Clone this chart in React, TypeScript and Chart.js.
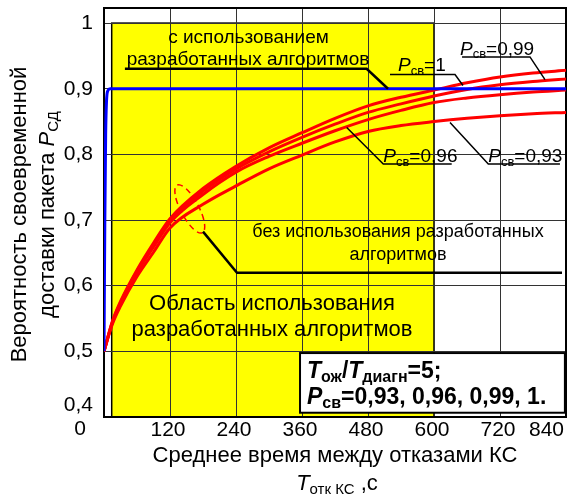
import { useEffect, useRef } from 'react';
import { Chart, registerables } from 'chart.js';
Chart.register(...registerables);

// ---- data ----
const xTicks = [0, 120, 240, 360, 480, 600, 720, 840];
const yTicks = [0.4, 0.5, 0.6, 0.7, 0.8, 0.9, 1];
const xRed = [0, 15, 30, 60, 90, 120, 180, 240, 300, 360, 420, 480, 540, 600, 660, 720, 780, 840];
const pcv1 = [0.5, 0.545, 0.576, 0.624, 0.665, 0.702, 0.748, 0.782, 0.81, 0.833, 0.855, 0.874, 0.887, 0.898, 0.909, 0.918, 0.924, 0.928];
const pcv099 = [0.5, 0.544, 0.574, 0.622, 0.662, 0.699, 0.744, 0.778, 0.804, 0.826, 0.846, 0.864, 0.877, 0.889, 0.899, 0.906, 0.911, 0.915];
const pcv096 = [0.5, 0.543, 0.572, 0.62, 0.659, 0.696, 0.739, 0.773, 0.797, 0.817, 0.836, 0.853, 0.867, 0.879, 0.886, 0.891, 0.895, 0.898];
const pcv093 = [0.5, 0.541, 0.569, 0.614, 0.651, 0.688, 0.724, 0.752, 0.778, 0.799, 0.819, 0.835, 0.844, 0.85, 0.855, 0.859, 0.862, 0.864];
const xBlue = [0, 1.5, 3, 4.5, 7, 11, 840];
const yBlue = [0.5, 0.7, 0.83, 0.88, 0.897, 0.9, 0.9];
const regionX = [14, 600];
const regionY = [0.4, 1.0];

const FONT = "'Liberation Sans', Arial, sans-serif";

type Seg = { t: string; it?: boolean; b?: boolean; sub?: boolean };

function fontOf(s: Seg, size: number) {
  const sz = s.sub ? Math.round(size * 0.68) : size;
  return `${s.it ? 'italic ' : ''}${s.b ? 'bold ' : ''}${sz}px ${FONT}`;
}

function drawRich(ctx: CanvasRenderingContext2D, segs: Seg[], x: number, y: number, size: number, align: 'left' | 'center') {
  let w = 0;
  for (const s of segs) {
    ctx.font = fontOf(s, size);
    w += ctx.measureText(s.t).width;
  }
  let cx = align === 'center' ? x - w / 2 : x;
  ctx.textAlign = 'left';
  ctx.textBaseline = 'alphabetic';
  for (const s of segs) {
    ctx.font = fontOf(s, size);
    ctx.fillText(s.t, cx, s.sub ? y + size * 0.18 : y);
    cx += ctx.measureText(s.t).width;
  }
}

const annot = {
  id: 'annot',
  beforeDraw(chart: any) {
    const { ctx, scales } = chart;
    const X = (v: number) => scales.x.getPixelForValue(v);
    const Y = (v: number) => scales.y.getPixelForValue(v);
    ctx.save();
    ctx.fillStyle = '#FFFF00';
    const x0 = X(regionX[0]), x1 = X(regionX[1]), y0 = Y(regionY[1]), y1 = Y(regionY[0]);
    ctx.fillRect(x0, y0, x1 - x0, y1 - y0);
    ctx.strokeStyle = '#000';
    ctx.lineWidth = 1.5;
    ctx.strokeRect(x0, y0, x1 - x0, y1 - y0);
    ctx.restore();
  },
  beforeDatasetsDraw(chart: any) {
    const { ctx, chartArea, scales } = chart;
    const X = (v: number) => scales.x.getPixelForValue(v);
    const Y = (v: number) => scales.y.getPixelForValue(v);
    ctx.save();
    ctx.strokeStyle = '#000';
    ctx.lineWidth = 2;
    ctx.strokeRect(chartArea.left, chartArea.top, chartArea.right - chartArea.left, chartArea.bottom - chartArea.top);
    // dashed ellipse
    ctx.strokeStyle = '#FF0000';
    ctx.lineWidth = 1.5;
    ctx.setLineDash([6, 4]);
    ctx.beginPath();
    ctx.ellipse(X(156), Y(0.717), 27, 9, (62 * Math.PI) / 180, 0, Math.PI * 2);
    ctx.stroke();
    ctx.restore();
  },
  afterDraw(chart: any) {
    const { ctx, chartArea, scales } = chart;
    const X = (v: number) => scales.x.getPixelForValue(v);
    const Y = (v: number) => scales.y.getPixelForValue(v);
    ctx.save();
    ctx.fillStyle = '#000';
    ctx.strokeStyle = '#000';
    const poly = (pts: number[][], lw: number) => {
      ctx.lineWidth = lw;
      ctx.beginPath();
      pts.forEach(([a, b], i) => (i ? ctx.lineTo(X(a), Y(b)) : ctx.moveTo(X(a), Y(b))));
      ctx.stroke();
    };
    // "с использованием разработанных алгоритмов"
    drawRich(ctx, [{ t: 'с использованием' }], X(262.7), Y(0.9697), 19, 'center');
    drawRich(ctx, [{ t: 'разработанных алгоритмов' }], X(261.8), Y(0.9368), 19, 'center');
    poly([[38, 0.9303], [477.6, 0.9303], [516.4, 0.9]], 2.5);
    // P labels
    const pl = (val: string) => [{ t: 'P', it: true }, { t: 'св', sub: true }, { t: '=' + val }];
    drawRich(ctx, pl('1'), X(534.5), Y(0.9267), 19, 'left');
    poly([[520, 0.9217], [638.2, 0.9217], [652.7, 0.905]], 1.5);
    drawRich(ctx, pl('0,99'), X(647.3), Y(0.952), 19, 'left');
    poly([[651, 0.9485], [774.5, 0.9485], [801.8, 0.914]], 1.5);
    drawRich(ctx, pl('0,96'), X(507.8), Y(0.7883), 19, 'left');
    poly([[441.3, 0.841], [507.8, 0.7853], [632.2, 0.7853]], 1.5);
    drawRich(ctx, pl('0,93'), X(698.7), Y(0.7883), 19, 'left');
    poly([[629.1, 0.8485], [698.7, 0.7853], [829, 0.7853]], 1.5);
    // без использования
    drawRich(ctx, [{ t: 'без использования разработанных' }], X(534.5), Y(0.6742), 18, 'center');
    drawRich(ctx, [{ t: 'алгоритмов' }], X(534.5), Y(0.6398), 18, 'center');
    poly([[180, 0.6823], [241.8, 0.6197], [832.7, 0.6197]], 2.5);
    // Область
    drawRich(ctx, [{ t: 'Область использования' }], X(305.5), Y(0.563), 22, 'center');
    drawRich(ctx, [{ t: 'разработанных алгоритмов' }], X(305.5), Y(0.5227), 22, 'center');
    // box
    const bx0 = X(356.4), bx1 = X(838), by0 = Y(0.4974), by1 = Y(0.4065);
    ctx.fillStyle = '#fff';
    ctx.fillRect(bx0, by0, bx1 - bx0, by1 - by0);
    ctx.lineWidth = 2;
    ctx.strokeRect(bx0, by0, bx1 - bx0, by1 - by0);
    ctx.fillStyle = '#000';
    drawRich(ctx, [
      { t: 'T', it: true, b: true }, { t: 'ож', b: true, sub: true }, { t: '/', b: true },
      { t: 'T', it: true, b: true }, { t: 'диагн', b: true, sub: true }, { t: '=5;', b: true },
    ], X(369), Y(0.4595), 23, 'left');
    drawRich(ctx, [
      { t: 'P', it: true, b: true }, { t: 'св', b: true, sub: true }, { t: '=0,93, 0,96, 0,99, 1.', b: true },
    ], X(369), Y(0.4202), 23, 'left');
    // extra tick labels
    ctx.font = `21px ${FONT}`;
    ctx.textAlign = 'right';
    ctx.textBaseline = 'alphabetic';
    ctx.fillText('0,4', chartArea.left - 11, Y(0.4) - 6);
    ctx.textAlign = 'center';
    ctx.fillText('0', X(0) - 24, chartArea.bottom + 18);
    // axis titles
    const cxA = (chartArea.left + chartArea.right) / 2;
    drawRich(ctx, [{ t: 'Среднее время между отказами КС' }], cxA, 461.5, 22, 'center');
    drawRich(ctx, [{ t: 'T', it: true }, { t: 'отк КС', sub: true }, { t: ' ,с' }], cxA + 2, 490, 22, 'center');
    const cyA = (chartArea.top + chartArea.bottom) / 2 + 2;
    ctx.translate(0, cyA);
    ctx.rotate(-Math.PI / 2);
    drawRich(ctx, [{ t: 'Вероятность своевременной' }], 0, 26, 22, 'center');
    drawRich(ctx, [{ t: 'доставки пакета ' }, { t: 'P', it: true }, { t: 'СД', sub: true }], 0, 54, 22, 'center');
    ctx.restore();
  },
};

export default function App() {
  const ref = useRef<HTMLCanvasElement>(null);
  useEffect(() => {
    const chart = new Chart(ref.current!, {
      type: 'line',
      data: {
        datasets: [
          { label: 'blue', data: xBlue.map((x, i) => ({ x, y: yBlue[i] })), borderColor: '#0000FF', borderWidth: 3, cubicInterpolationMode: 'monotone' },
          { label: 'Pсв=1', data: xRed.map((x, i) => ({ x, y: pcv1[i] })), borderColor: '#FF0000', borderWidth: 3, cubicInterpolationMode: 'monotone' },
          { label: 'Pсв=0,99', data: xRed.map((x, i) => ({ x, y: pcv099[i] })), borderColor: '#FF0000', borderWidth: 3, cubicInterpolationMode: 'monotone' },
          { label: 'Pсв=0,96', data: xRed.map((x, i) => ({ x, y: pcv096[i] })), borderColor: '#FF0000', borderWidth: 3, cubicInterpolationMode: 'monotone' },
          { label: 'Pсв=0,93', data: xRed.map((x, i) => ({ x, y: pcv093[i] })), borderColor: '#FF0000', borderWidth: 3, cubicInterpolationMode: 'monotone' },
        ],
      },
      options: {
        responsive: false,
        animation: false,
        events: [],
        layout: { padding: { top: 8, right: 4, left: 0, bottom: 0 } },
        elements: { point: { radius: 0 } },
        plugins: { legend: { display: false }, tooltip: { enabled: false } },
        scales: {
          x: {
            type: 'linear',
            min: 0,
            max: 840,
            afterBuildTicks: (s: any) => { s.ticks = xTicks.map((v) => ({ value: v })); },
            afterFit: (s: any) => { s.height = 80; s.paddingLeft = 0; s.paddingRight = 0; s.paddingTop = 0; s.paddingBottom = 0; },
            grid: { color: '#333', lineWidth: 1, drawTicks: false },
            border: { display: false },
            ticks: {
              autoSkip: false, maxRotation: 0, align: 'inner', labelOffset: -2, padding: 1,
              color: '#000', font: { family: FONT, size: 21 },
              callback: (v: any) => (v === 0 ? '' : String(v)),
            },
          },
          y: {
            type: 'linear',
            min: 0.4,
            max: 1.023,
            afterBuildTicks: (s: any) => { s.ticks = yTicks.map((v) => ({ value: v })); },
            afterFit: (s: any) => { s.width = 104; s.paddingLeft = 0; s.paddingRight = 0; s.paddingTop = 0; s.paddingBottom = 0; },
            grid: { color: '#333', lineWidth: 1, drawTicks: false },
            border: { display: false },
            ticks: {
              padding: 11, color: '#000', font: { family: FONT, size: 21 },
              callback: (v: any) => (Math.abs(v - 0.4) < 1e-6 ? '' : Math.abs(v - 1) < 1e-6 ? '1' : Number(v).toFixed(1).replace('.', ',')),
            },
          },
        },
      },
      plugins: [annot],
    } as any);
    return () => chart.destroy();
  }, []);
  return (
    <div style={{ position: 'absolute', left: 0, top: 0, width: 570, height: 497, background: '#fff' }}>
      <canvas ref={ref} width={570} height={497} style={{ display: 'block' }} />
    </div>
  );
}
